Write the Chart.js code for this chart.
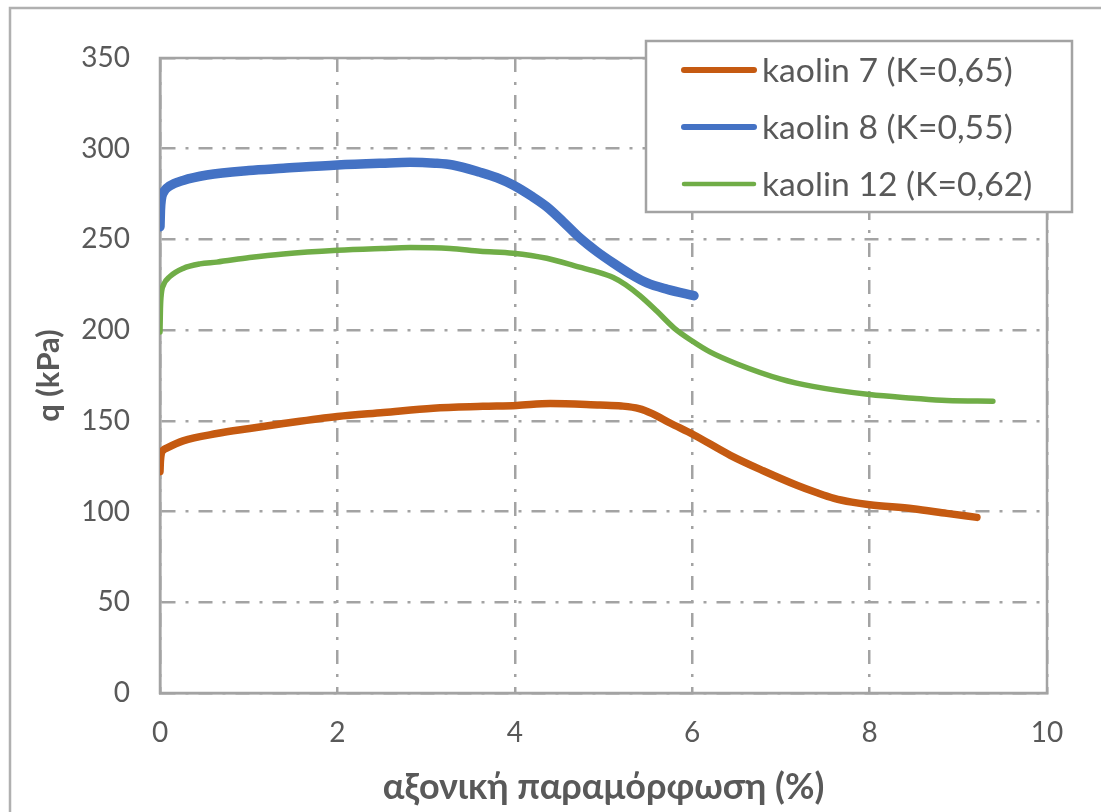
<!DOCTYPE html>
<html>
<head>
<meta charset="utf-8">
<script src="https://cdn.jsdelivr.net/npm/chart.js@4.4.1/dist/chart.umd.min.js"></script>
<style>
  html, body { margin: 0; padding: 0; background: #ffffff; }
  #wrap { width: 1101px; height: 812px; }
</style>
</head>
<body>
<div id="wrap"><canvas id="c" width="1101" height="812"></canvas></div>
<script>
// Axial strain (%) and deviator stress q (kPa) for each kaolin sample
const strain7 = [0, 0.005, 0.015, 0.04, 0.075, 0.26, 0.64, 1.01, 1.39, 2.0, 2.52, 3.08, 3.64, 4.02, 4.4, 4.96, 5.2, 5.4, 5.55, 5.75, 6.01, 6.43, 6.8, 7.18, 7.4, 7.6, 7.8, 8.0, 8.49, 8.87, 9.21];
const q7      = [122, 128, 132, 134, 135, 139, 143, 145.8, 148.5, 152.4, 154.6, 157, 158, 158.5, 159.6, 158.7, 158.2, 156.8, 154, 148.8, 142.5, 131, 122.5, 114.5, 110.5, 107.3, 105.2, 103.8, 101.5, 99, 96.8];

const strain8 = [0, 0.005, 0.015, 0.04, 0.11, 0.26, 0.53, 1.0, 1.39, 2.0, 2.5, 2.82, 3.1, 3.3, 3.61, 3.8, 3.98, 4.2, 4.36, 4.55, 4.73, 4.92, 5.11, 5.3, 5.49, 5.72, 6.02];
const q8      = [257, 266, 272, 276, 279.5, 282.5, 285.5, 288, 289.2, 291, 292, 292.5, 292, 291, 287, 284, 280, 273.5, 268, 259.5, 251, 243.5, 237, 231, 226, 222.5, 219];

const strain12 = [0, 0.005, 0.015, 0.04, 0.11, 0.26, 0.45, 0.64, 1.01, 1.39, 2.0, 2.5, 2.82, 3.27, 3.61, 3.98, 4.36, 4.73, 4.9, 5.11, 5.25, 5.41, 5.6, 5.8, 6.0, 6.2, 6.5, 7.0, 7.36, 8.0, 8.49, 8.87, 9.39];
const q12      = [199, 212, 220, 225, 229.5, 234, 236.5, 237.5, 240, 242, 244, 245, 245.5, 245, 243.5, 242.4, 239.6, 234.7, 232.5, 229, 225, 219, 210.5, 201, 194, 188, 181.5, 173, 169, 164.5, 162.5, 161.2, 160.8];

const seriesNames = ['kaolin 7 (K=0,65)', 'kaolin 8 (K=0,55)', 'kaolin 12 (K=0,62)'];
const xTitle = 'αξονική παραμόρφωση (%)';
const yTitle = 'q (kPa)';

const TEXT = '#595959';
const GRID = '#a3a3a3';
const FONT = "Lato, 'Noto Sans', sans-serif";

function pairs(xs, ys) { return xs.map((x, i) => ({ x: x, y: ys[i] })); }

// Plot-area frame and outer chart border
const framePlugin = {
  id: 'frame',
  beforeDraw(chart) {
    const ctx = chart.ctx;
    ctx.save();
    ctx.fillStyle = '#ffffff';
    ctx.fillRect(0, 0, chart.width, chart.height);
    ctx.strokeStyle = '#b0b0b0';
    ctx.lineWidth = 2.5;
    ctx.strokeRect(10, 8, chart.width + 40, chart.height + 40);
    ctx.restore();
  },
  beforeDatasetsDraw(chart) {
    const a = chart.chartArea;
    const ctx = chart.ctx;
    ctx.save();
    ctx.strokeStyle = GRID;
    ctx.lineWidth = 2.5;
    ctx.strokeRect(a.left, a.top, a.right - a.left, a.bottom - a.top);
    ctx.restore();
  }
};

// Boxed legend drawn inside the plot area (top right)
const boxLegend = {
  id: 'boxLegend',
  afterDraw(chart) {
    const ctx = chart.ctx;
    const box = { x: 646, y: 41, w: 426, h: 171 };
    ctx.save();
    ctx.fillStyle = '#ffffff';
    ctx.fillRect(box.x, box.y, box.w, box.h);
    ctx.strokeStyle = GRID;
    ctx.lineWidth = 2.5;
    ctx.strokeRect(box.x, box.y, box.w, box.h);
    const rows = [70, 127, 184];
    const widths = [6, 6, 4.5];
    // size the entry text so the first label spans ~251px
    ctx.font = "100px " + FONT;
    const size = Math.min(36, 100 * 251 / ctx.measureText(chart.data.datasets[0].label).width);
    ctx.font = size.toFixed(1) + "px " + FONT;
    ctx.textBaseline = 'middle';
    ctx.textAlign = 'left';
    chart.data.datasets.forEach((ds, i) => {
      const y = rows[i];
      ctx.strokeStyle = ds.borderColor;
      ctx.lineWidth = widths[i];
      ctx.lineCap = 'round';
      ctx.beginPath();
      ctx.moveTo(684, y);
      ctx.lineTo(754, y);
      ctx.stroke();
      ctx.fillStyle = TEXT;
      ctx.fillText(ds.label, 762, y + 1);
    });
    ctx.restore();
  }
};

const common = {
  pointRadius: 0,
  pointHoverRadius: 0,
  fill: false,
  cubicInterpolationMode: 'monotone',
  borderCapStyle: 'round',
  borderJoinStyle: 'round'
};

new Chart(document.getElementById('c'), {
  type: 'line',
  data: {
    datasets: [
      Object.assign({ label: seriesNames[0], data: pairs(strain7, q7), borderColor: '#c55a11', borderWidth: 7.5, order: 3 }, common),
      Object.assign({ label: seriesNames[1], data: pairs(strain8, q8), borderColor: '#4472c4', borderWidth: 9.5, order: 2 }, common),
      Object.assign({ label: seriesNames[2], data: pairs(strain12, q12), borderColor: '#70ad47', borderWidth: 5.5, order: 1 }, common)
    ]
  },
  options: {
    responsive: false,
    animation: false,
    events: [],
    layout: { padding: { top: 58, right: 54, left: 0, bottom: 0 } },
    plugins: {
      legend: { display: false },
      tooltip: { enabled: false }
    },
    scales: {
      x: {
        type: 'linear',
        min: 0, max: 10,
        ticks: { stepSize: 2, color: TEXT, font: { family: FONT, size: 28 }, padding: 23, maxRotation: 0 },
        grid: { color: GRID, lineWidth: 2.5, drawTicks: false },
        border: { display: true, color: GRID, width: 2.5, dash: [14, 10, 3, 10] },
        title: { display: true, text: xTitle, color: TEXT, font: { family: FONT, size: 36, weight: 'bold' }, padding: { top: 0, bottom: 3 } },
        afterFit(scale) { scale.height = 119; }
      },
      y: {
        type: 'linear',
        min: 0, max: 350,
        ticks: { stepSize: 50, color: TEXT, font: { family: FONT, size: 28 }, padding: 30 },
        grid: { color: GRID, lineWidth: 2.5, drawTicks: false },
        border: { display: true, color: GRID, width: 2.5, dash: [14, 10, 3, 10] },
        title: { display: true, text: yTitle, color: TEXT, font: { family: FONT, size: 31, weight: 'bold' }, padding: { top: 30, bottom: 0 } },
        afterFit(scale) { scale.width = 160; }
      }
    }
  },
  plugins: [framePlugin, boxLegend]
});
</script>
</body>
</html>
